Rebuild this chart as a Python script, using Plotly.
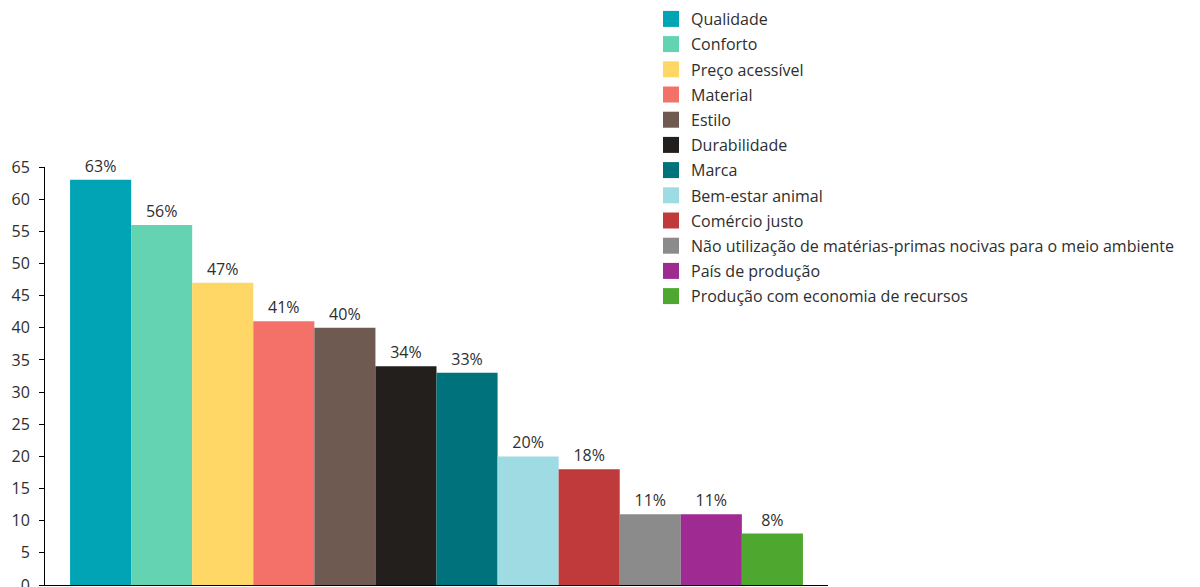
import plotly.graph_objects as go

categories = ["Qualidade", "Conforto", "Preço acessível", "Material", "Estilo", "Durabilidade",
              "Marca", "Bem-estar animal", "Comércio justo",
              "Não utilização de matérias-primas nocivas para o meio ambiente",
              "País de produção", "Produção com economia de recursos"]
values = [63, 56, 47, 41, 40, 34, 33, 20, 18, 11, 11, 8]
colors = ["#00A4B5", "#63D3B1", "#FFD766", "#F4716A", "#6E5A51", "#231F1C",
          "#00727B", "#9EDBE2", "#C0393B", "#8B8B8B", "#9F2A91", "#4EA72E"]
y_ticks = [0, 5, 10, 15, 20, 25, 30, 35, 40, 45, 50, 55, 60, 65]

TXT = "#2e2e2e"
W, H = 1200, 587

fig = go.Figure()
for c, v, col in zip(categories, values, colors):
    fig.add_trace(go.Bar(
        x=[""], y=[v], name=c, legendgroup=c, showlegend=False,
        marker=dict(color=col, line=dict(width=0)),
        text=[f"{v}%"], textposition="outside", cliponaxis=False,
        textfont=dict(size=16, color=TXT),
    ))
    # legend entry with a larger square swatch
    fig.add_trace(go.Scatter(
        x=[None], y=[None], mode="markers", name=c, legendgroup=c,
        marker=dict(symbol="square", size=16, color=col),
        hoverinfo="skip",
    ))

fig.update_layout(
    width=W, height=H,
    margin=dict(l=0, r=0, t=0, b=2, autoexpand=False),
    barmode="group", bargap=0.064, bargroupgap=0,
    plot_bgcolor="white", paper_bgcolor="white",
    font=dict(family="Open Sans, sans-serif", color=TXT),
    showlegend=True,
    legend=dict(x=651 / W, y=1 - 2 / H, xref="paper", yref="container",
                xanchor="left", yanchor="top", maxheight=1.0,
                font=dict(size=16, color=TXT), itemsizing="trace",
                tracegroupgap=1.4, itemwidth=30, bgcolor="rgba(0,0,0,0)"),
    xaxis=dict(domain=[45 / W, 828 / W], showticklabels=False, showline=True,
               linecolor="#000000", linewidth=1, ticks="", showgrid=False, zeroline=False),
    yaxis=dict(domain=[0, (585 - 167) / 585], range=[0, 65], tickvals=y_ticks,
               ticks="outside", ticklen=5, tickcolor="#000000", showline=True,
               linecolor="#000000", linewidth=1, showgrid=False, zeroline=False,
               automargin=False, ticklabelstandoff=6, ticklabeloverflow="allow",
               tickfont=dict(size=16, color=TXT)),
)
fig.write_html("out.html")
